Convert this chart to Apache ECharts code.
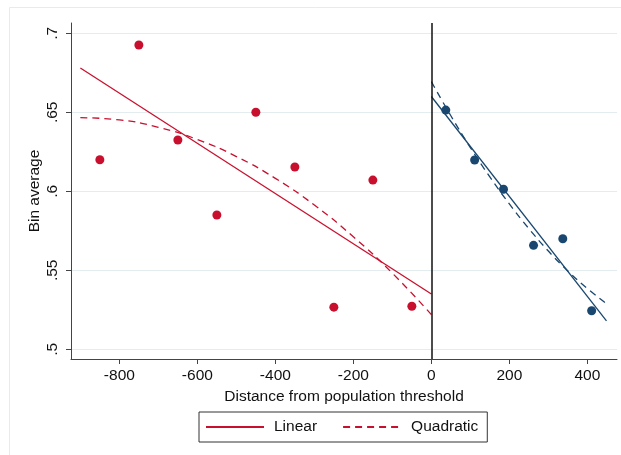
<!DOCTYPE html>
<html>
<head>
<meta charset="utf-8">
<script src="https://cdn.jsdelivr.net/npm/echarts@6/dist/echarts.min.js"></script>
<style>
  html, body { margin: 0; padding: 0; background: #fff; }
  #chart { width: 621px; height: 455px; }
</style>
</head>
<body>
<div id="chart"></div>
<script>
// bin averages, left of threshold
var leftX = [-850, -750, -650, -550, -450, -350, -250, -150, -50];
var leftY = [0.620, 0.6926, 0.6325, 0.585, 0.650, 0.6154, 0.5267, 0.6071, 0.5273];
// bin averages, right of threshold
var rightX = [37, 111, 185, 262, 337, 411];
var rightY = [0.6514, 0.6198, 0.6013, 0.5658, 0.570, 0.5244];

// fitted lines
var leftLinX = [-900, 0];
var leftLinY = [0.678, 0.535];
var leftQuadX = [-900, -800, -700, -600, -500, -400, -300, -200, -100, 0];
var leftQuadY = [0.6466, 0.6452, 0.6405, 0.6328, 0.622, 0.6082, 0.5913, 0.5712, 0.5482, 0.522];
var rightLinX = [0, 449];
var rightLinY = [0.660, 0.518];
var rightQuadX = [0, 50, 100, 150, 200, 250, 300, 350, 400, 445];
var rightQuadY = [0.6694, 0.6478, 0.6277, 0.6091, 0.592, 0.5764, 0.5622, 0.5496, 0.5385, 0.5297];

var xTicks = [-800, -600, -400, -200, 0, 200, 400];
var yTicks = [0.5, 0.55, 0.6, 0.65, 0.7];

var red = '#c8102e';
var navy = '#1a476f';
var font = 'Liberation Sans, Arial, sans-serif';

function pairs(xs, ys) {
    return xs.map(function(x, i) { return [x, ys[i]]; });
}

var myChart = echarts.init(document.getElementById('chart'));

var option = {
    animation: false,
    backgroundColor: '#fff',
    textStyle: { fontFamily: font },
    graphic: [{
        type: 'rect',
        shape: { x: 9.5, y: 7.5, width: 700, height: 500 },
        style: { fill: 'none', stroke: '#e4ecef', lineWidth: 1 },
        silent: true
    }],
    grid: { left: 71, right: 4, top: 23, bottom: 96 },
    legend: {
        left: 199,
        top: 412,
        padding: [7, 9, 7, 6],
        borderColor: '#333',
        borderWidth: 1,
        itemWidth: 58,
        itemHeight: 14,
        itemGap: 25,
        itemStyle: { opacity: 0 },
        textStyle: { fontSize: 15.5, color: '#111', fontFamily: font, padding: [0, 0, 0, 5] },
        data: ['Linear', 'Quadratic']
    },
    xAxis: {
        type: 'value',
        min: -924,
        max: 476,
        name: 'Distance from population threshold',
        nameLocation: 'middle',
        nameGap: 27,
        nameTextStyle: { fontSize: 15.5, color: '#111' },
        axisLine: { show: true, onZero: false, lineStyle: { color: '#444', width: 1 } },
        axisTick: { show: true, length: 5, lineStyle: { color: '#444' }, customValues: xTicks },
        axisLabel: { fontSize: 15.5, color: '#111', margin: 9, customValues: xTicks },
        splitLine: { show: false }
    },
    yAxis: {
        type: 'value',
        min: 0.4939,
        max: 0.7065,
        name: 'Bin average',
        nameLocation: 'middle',
        nameGap: 28,
        nameMoveOverlap: false,
        nameTextStyle: { fontSize: 15.5, color: '#111' },
        axisLine: { show: true, onZero: false, lineStyle: { color: '#444', width: 1 } },
        axisTick: { show: true, length: 5, lineStyle: { color: '#444' }, customValues: yTicks },
        axisLabel: {
            fontSize: 15.5, color: '#111', rotate: 90, margin: 10,
            customValues: yTicks,
            formatter: function(v) { return String(+v.toFixed(2)).replace(/^0/, ''); }
        },
        splitLine: { show: true, lineStyle: { color: '#e3ecee', width: 1 } }
    },
    series: [{
        name: 'Linear',
        type: 'line',
        data: pairs(leftLinX, leftLinY),
        symbol: 'none',
        lineStyle: { color: red, width: 1.3 },
        itemStyle: { color: red },
        z: 3,
        markLine: {
            silent: true,
            symbol: 'none',
            label: { show: false },
            lineStyle: { color: '#111', width: 1.5, type: 'solid' },
            data: [{ xAxis: 0 }]
        }
    }, {
        name: 'Quadratic',
        type: 'line',
        data: pairs(leftQuadX, leftQuadY),
        smooth: true,
        symbol: 'none',
        lineStyle: { color: red, width: 1.3, type: [7, 5] },
        itemStyle: { color: red },
        z: 3
    }, {
        name: 'Linear right',
        type: 'line',
        data: pairs(rightLinX, rightLinY),
        symbol: 'none',
        lineStyle: { color: navy, width: 1.3 },
        z: 3
    }, {
        name: 'Quadratic right',
        type: 'line',
        data: pairs(rightQuadX, rightQuadY),
        smooth: true,
        symbol: 'none',
        lineStyle: { color: navy, width: 1.3, type: [7, 5] },
        z: 3
    }, {
        name: 'Bins left',
        type: 'scatter',
        data: pairs(leftX, leftY),
        symbolSize: 9,
        itemStyle: { color: red, opacity: 1 },
        z: 4
    }, {
        name: 'Bins right',
        type: 'scatter',
        data: pairs(rightX, rightY),
        symbolSize: 9,
        itemStyle: { color: navy, opacity: 1 },
        z: 4
    }]
};

myChart.setOption(option);
</script>
</body>
</html>
